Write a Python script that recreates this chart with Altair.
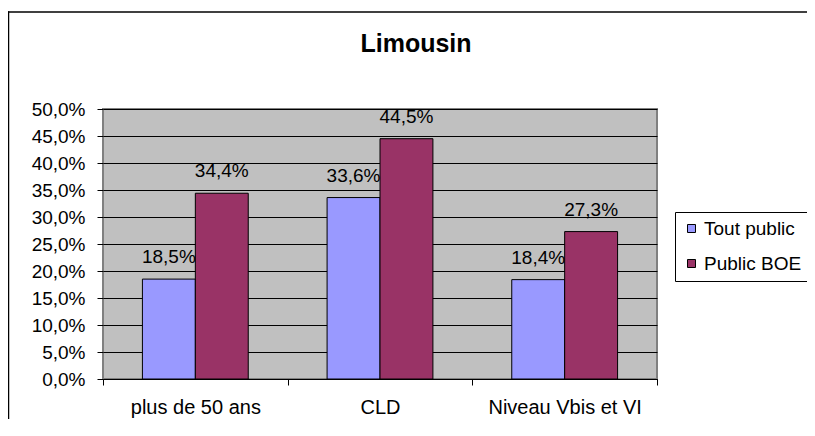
import altair as alt
import pandas as pd

title_text = "Limousin"
categories = ["plus de 50 ans", "CLD", "Niveau Vbis et VI"]
series = ["Tout public", "Public BOE"]
tout_public = [18.5, 33.6, 18.4]
public_boe = [34.4, 44.5, 27.3]
colors = ["#9999FF", "#993366"]
y_ticks = [0, 0.05, 0.10, 0.15, 0.20, 0.25, 0.30, 0.35, 0.40, 0.45, 0.50]

rows = []
for s, vals in zip(series, [tout_public, public_boe]):
    for c, v in zip(categories, vals):
        rows.append({"cat": c, "serie": s, "value": v / 100,
                     "label": f"{v:.1f}%".replace(".", ",")})
df = pd.DataFrame(rows)

FONT = "Liberation Sans"
FS = 19
W, H = 554, 270

x = alt.X("cat:N", sort=categories,
          scale=alt.Scale(paddingInner=0, paddingOuter=0),
          axis=alt.Axis(title=None, labelAngle=0, tickBand="extent", tickSize=6,
                        tickColor="black", domainColor="black", domainWidth=1,
                        labelPadding=12, labelFontSize=20, labelColor="black",
                        labelFont=FONT))
xoff = alt.XOffset("serie:N", sort=series,
                   scale=alt.Scale(paddingInner=0, paddingOuter=0.745))
y = alt.Y("value:Q", scale=alt.Scale(domain=[0, 0.5], nice=False),
          axis=alt.Axis(title=None, values=y_ticks,
                        labelExpr="replace(format(datum.value, '.1%'), '.', ',')",
                        grid=True, gridColor="black", gridWidth=1, gridOpacity=1,
                        domain=False, tickColor="black", tickSize=6,
                        labelPadding=12, labelFontSize=FS, labelColor="black",
                        labelFont=FONT))
color = alt.Color("serie:N", sort=series,
                  scale=alt.Scale(domain=series, range=colors),
                  legend=alt.Legend(title=None, orient="none", legendX=572, legendY=103,
                                    strokeColor="black", fillColor="white", padding=7,
                                    symbolType="square", symbolSize=64,
                                    symbolStrokeColor="black", symbolStrokeWidth=1,
                                    labelFontSize=FS, labelFont=FONT, labelColor="black",
                                    rowPadding=15, labelOffset=3))

base = alt.Chart(df)
bars = base.mark_bar(stroke="black", strokeWidth=1).encode(x=x, xOffset=xoff, y=y, color=color)
labels = base.mark_text(baseline="alphabetic", dy=-16, fontSize=FS, font=FONT,
                        color="black").encode(x=x, xOffset=xoff, y=y, text="label:N")

one = alt.Data(values=[{"t": title_text}])
frame_top = alt.Chart(one).mark_rect(fill="black", strokeWidth=0).encode(
    x=alt.value(-95.25), x2=alt.value(720), y=alt.value(-97.75), y2=alt.value(-96.25))
frame_left = alt.Chart(one).mark_rect(fill="black", strokeWidth=0).encode(
    x=alt.value(-95.25), x2=alt.value(-93.75), y=alt.value(-97.75), y2=alt.value(360))

title = alt.Chart(one).mark_text(
    fontSize=25, fontWeight="bold", font=FONT, baseline="alphabetic", align="center",
    color="black"
).encode(x=alt.value(313), y=alt.value(-57), text="t:N")

chart = alt.layer(frame_top, frame_left, bars, labels, title).properties(
    width=W, height=H,
    autosize=alt.AutoSizeParams(type="none"),
    padding={"left": 95, "top": 101, "right": 150, "bottom": 40},
    background="white",
).configure_view(fill="#C0C0C0", stroke="#808080", strokeWidth=2)

chart.save("out.html", embed_options={"renderer": "svg", "actions": False})
